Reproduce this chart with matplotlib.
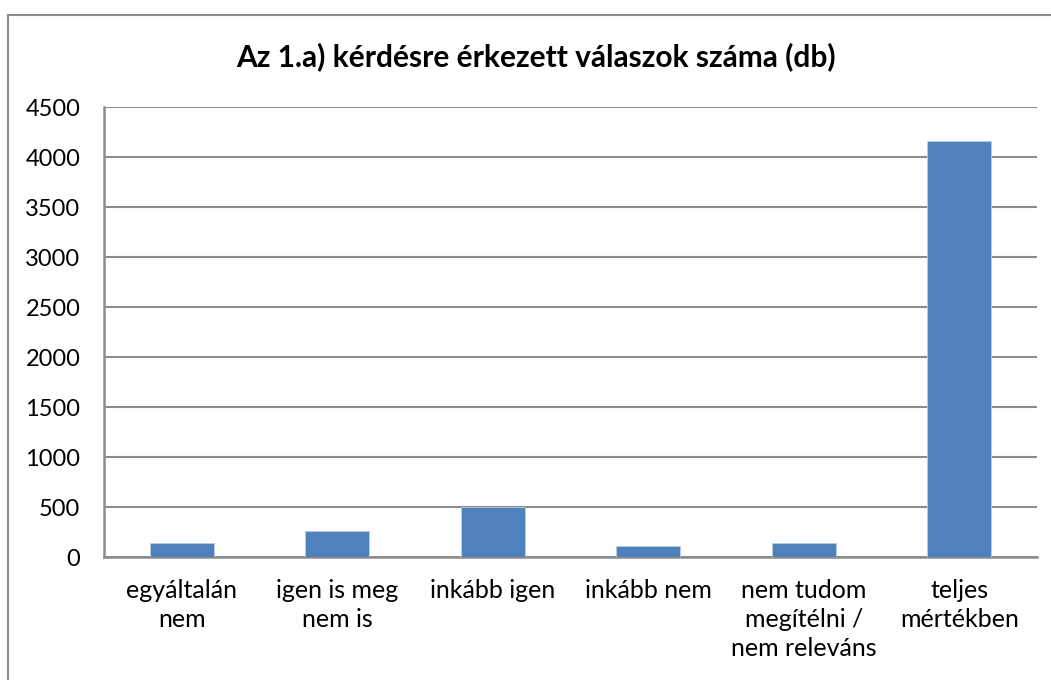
import matplotlib.pyplot as plt
from matplotlib.lines import Line2D

categories = ["egyáltalán\nnem", "igen is meg\nnem is", "inkább igen",
              "inkább nem", "nem tudom\nmegítélni /\nnem releváns",
              "teljes\nmértékben"]
values = [145, 265, 505, 115, 145, 4165]
yticks = [0, 500, 1000, 1500, 2000, 2500, 3000, 3500, 4000, 4500]

plt.rcParams['font.family'] = ['Lato', 'DejaVu Sans']

fig = plt.figure(figsize=(10.51, 6.80), dpi=100)
W, H = 1051, 680
ax = fig.add_axes([104 / W, 1 - 557 / H, (1037 - 104) / W, (557 - 107) / H])

x = range(len(categories))
ax.bar(x, values, width=0.41, color='#4f81bd', edgecolor='#b9cde5', linewidth=0.6, zorder=3)

ax.set_xlim(-0.5, len(categories) - 0.5)
ax.set_ylim(0, 4500)
ax.set_yticks(yticks)
ax.set_yticklabels([str(v) for v in yticks], fontsize=17)
ax.set_xticks(list(x))
ax.set_xticklabels(categories, fontsize=18, linespacing=1.3, va='top')
ax.tick_params(axis='both', length=0, colors='black')
ax.tick_params(axis='y', pad=17)
ax.tick_params(axis='x', pad=16)

ax.grid(axis='y', color='#8c8c8c', linewidth=1.5, zorder=0)
for s in ['top', 'right']:
    ax.spines[s].set_visible(False)
for s in ['left', 'bottom']:
    ax.spines[s].set_color('#8c8c8c')
    ax.spines[s].set_linewidth(1.8)

fig.text(536 / W, 1 - 57 / H, "Az 1.a) kérdésre érkezett válaszok száma (db)",
         ha='center', va='center', fontsize=21.5, fontweight='bold')

# outer chart frame
fig.add_artist(Line2D([7.5 / W, 7.5 / W], [0, 1 - 15 / H], color='#8c8c8c', linewidth=1.5,
                      transform=fig.transFigure))
fig.add_artist(Line2D([7.5 / W, 1], [1 - 15 / H, 1 - 15 / H], color='#8c8c8c', linewidth=1.5,
                      transform=fig.transFigure))

fig.savefig('out.png', dpi=100)
